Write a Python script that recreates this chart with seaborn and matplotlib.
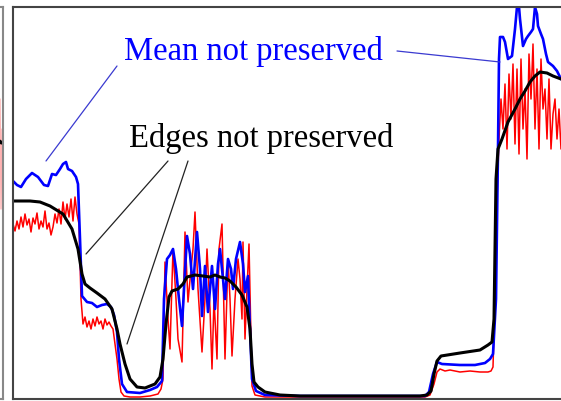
import numpy as np
import pandas as pd
import seaborn as sns
import matplotlib.pyplot as plt

# readings as (sample index, intensity) pairs
black_pts = [(0, 198), (17, 198), (27, 197), (37, 193), (50, 185), (59, 170), (65, 150), (69, 125), (72, 115),
             (77, 111), (84, 106), (92, 100), (99, 90), (104, 70), (107, 55), (112, 35), (117, 20), (124, 12),
             (132, 11), (142, 15), (147, 22), (150, 40), (153, 75), (156, 102), (159, 108), (165, 110), (170, 115),
             (174, 122), (182, 124), (190, 123), (197, 122), (202, 124), (207, 122), (212, 121), (217, 118),
             (223, 112), (229, 104), (234, 92), (237, 70), (239, 35), (241, 17), (245, 12), (252, 7), (267, 4),
             (287, 3), (407, 3), (414, 4), (418, 8), (421, 25), (424, 38), (428, 43), (447, 46), (467, 49),
             (475, 54), (479, 57), (481, 80), (482, 150), (483, 220), (485, 250), (489, 260), (495, 277),
             (502, 290), (507, 300), (512, 308), (517, 317), (522, 323), (527, 327), (534, 326), (540, 323),
             (548, 320), (562, 316)]

blue_pts = [(0, 218), (4, 214), (8, 212), (13, 220), (19, 226), (25, 222), (31, 214), (35, 213), (39, 225),
            (43, 224), (47, 230), (50, 235), (53, 237), (55, 230), (59, 228), (63, 222), (65, 215), (67, 160),
            (69, 103), (74, 97), (79, 96), (84, 92), (89, 94), (94, 95), (98, 92), (101, 84), (104, 67), (106, 40),
            (109, 15), (114, 7), (127, 6), (137, 9), (144, 12), (149, 18), (151, 100), (154, 140), (157, 144),
            (160, 150), (163, 130), (166, 100), (169, 73), (171, 110), (174, 163), (177, 145), (180, 110),
            (184, 167), (187, 130), (189, 83), (192, 133), (195, 87), (199, 133), (202, 90), (205, 135),
            (207, 150), (210, 120), (212, 100), (215, 140), (218, 130), (220, 110), (223, 140), (227, 157),
            (230, 135), (232, 107), (235, 123), (237, 70), (239, 20), (243, 8), (252, 4), (287, 3), (412, 3),
            (416, 7), (420, 25), (424, 37), (429, 35), (447, 34), (462, 34), (472, 36), (477, 40), (480, 45),
            (483, 100), (485, 250), (486, 340), (487, 362), (490, 362), (492, 357), (495, 340), (499, 343),
            (502, 370), (504, 392), (506, 392), (507, 380), (510, 353), (513, 360), (515, 363), (518, 367),
            (520, 370), (522, 392), (524, 385), (525, 373), (528, 365), (530, 360), (533, 345), (535, 337),
            (540, 333), (544, 328), (548, 320), (562, 312)]

red_pts = [(0, 175), (2, 168), (4, 178), (6, 170), (8, 182), (10, 172), (12, 185), (14, 174), (16, 180),
           (18, 167), (20, 181), (22, 175), (24, 186), (26, 170), (28, 178), (30, 172), (32, 188), (34, 170),
           (36, 176), (38, 164), (40, 172), (42, 185), (44, 176), (46, 190), (48, 175), (50, 197), (52, 180),
           (54, 195), (56, 182), (58, 200), (60, 178), (62, 202), (64, 185), (66, 175), (68, 100), (70, 75),
           (72, 82), (74, 72), (76, 78), (78, 70), (80, 80), (82, 73), (84, 82), (86, 75), (88, 78), (90, 70),
           (92, 80), (94, 74), (96, 77), (98, 73), (100, 70), (102, 55), (104, 40), (106, 20), (108, 7), (111, 3),
           (117, 2), (127, 2), (137, 3), (145, 5), (148, 10), (150, 20), (152, 137), (155, 80), (157, 50),
           (160, 150), (163, 100), (165, 60), (169, 37), (172, 167), (175, 97), (178, 130), (180, 150),
           (182, 187), (185, 110), (189, 47), (192, 100), (194, 150), (197, 90), (199, 30), (201, 100), (204, 40),
           (206, 150), (209, 175), (212, 40), (215, 140), (217, 100), (219, 43), (222, 100), (225, 140),
           (227, 120), (229, 80), (230, 157), (232, 60), (234, 110), (236, 155), (239, 13), (242, 4), (252, 2),
           (412, 2), (417, 4), (421, 15), (424, 27), (427, 30), (432, 28), (437, 29), (447, 27), (457, 28),
           (467, 27), (475, 27), (478, 28), (480, 32), (482, 100), (484, 200), (486, 260), (488, 300), (490, 270),
           (492, 315), (494, 250), (496, 325), (498, 280), (500, 335), (502, 255), (504, 330), (506, 245),
           (508, 340), (510, 270), (512, 310), (514, 240), (516, 345), (518, 300), (520, 355), (522, 270),
           (524, 330), (526, 250), (528, 340), (530, 290), (532, 310), (534, 260), (536, 320), (538, 250),
           (540, 285), (542, 300), (544, 260), (546, 290), (548, 250), (552, 300), (557, 270), (562, 290)]

# neighbouring panel, only its right end shows
side_x = [0, 1, 2, 3]
side_black = [258, 256, 257, 255]
side_red = [300, 190, 270, 215]

mean_text = "Mean not preserved"
edge_text = "Edges not preserved"


def frame(pts):
    return pd.DataFrame(pts, columns=["x", "y"])


black_df = frame(black_pts)
blue_df = frame(blue_pts)
red_df = frame(red_pts)

sns.set_style("white")
plt.rcParams['font.family'] = ['Liberation Serif', 'DejaVu Serif']

W, H = 561, 402
fig = plt.figure(figsize=(W / 100, H / 100), dpi=100)

# left neighbour panel, its right frame sits at px 3
side = fig.add_axes([(3 - 150) / W, 2 / H, 150 / W, 392 / H])
sns.lineplot(x=side_x, y=side_red, color="red", lw=1.0, alpha=0.3, ax=side, estimator=None)
sns.lineplot(x=side_x, y=side_black, color="black", lw=2.0, ax=side, estimator=None)
side.set_xlim(-147, 3)
side.set_ylim(0, 392)
side.set_xticks([])
side.set_yticks([])
for s in side.spines.values():
    s.set_color("#888888")
    s.set_linewidth(1.5)

# main panel
ax = fig.add_axes([13 / W, 2 / H, 562 / W, 392 / H])
sns.lineplot(data=red_df, x="x", y="y", color="red", lw=1.1, ax=ax, estimator=None, sort=False)
sns.lineplot(data=blue_df, x="x", y="y", color="blue", lw=1.9, ax=ax, estimator=None, sort=False)
sns.lineplot(data=black_df, x="x", y="y", color="black", lw=2.2, ax=ax, estimator=None, sort=False)
ax.set_xlim(0, 562)
ax.set_ylim(0, 392)
ax.set_xticks([])
ax.set_yticks([])
ax.set_xlabel("")
ax.set_ylabel("")
for s in ax.spines.values():
    s.set_color("#444444")
    s.set_linewidth(1.5)

ax.text(240, 340, mean_text, color="blue", fontsize=23.5, ha="center", va="baseline")
ax.text(248, 253, edge_text, color="black", fontsize=23.5, ha="center", va="baseline")

line_blue = dict(arrowstyle="-", color="#3a3ad0", lw=0.9, shrinkA=0, shrinkB=0)
line_black = dict(arrowstyle="-", color="#222222", lw=0.9, shrinkA=0, shrinkB=0)
ax.annotate("", xy=(33, 238), xytext=(104, 333), arrowprops=line_blue)
ax.annotate("", xy=(487, 337), xytext=(384, 348), arrowprops=line_blue)
ax.annotate("", xy=(73, 145), xytext=(155, 238), arrowprops=line_black)
ax.annotate("", xy=(114, 55), xytext=(175, 238), arrowprops=line_black)

fig.savefig("out.png", dpi=100)
